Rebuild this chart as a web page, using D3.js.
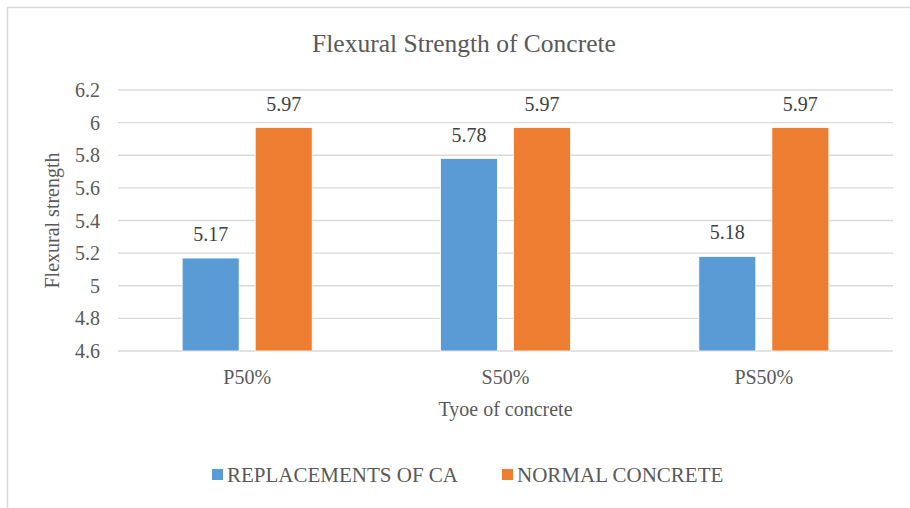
<!DOCTYPE html>
<html>
<head>
<meta charset="utf-8">
<script src="https://cdn.jsdelivr.net/npm/d3@7"></script>
<style>
  body { margin: 0; background: #fff; }
  svg { display: block; font-family: "Liberation Serif", "Times New Roman", serif; }
</style>
</head>
<body>
<div id="chart"></div>
<script>
// data
const categories = ['P50%', 'S50%', 'PS50%']
const seriesNames = ['REPLACEMENTS OF CA', 'NORMAL CONCRETE']
const replacementValues = [5.17, 5.78, 5.18]
const normalValues = [5.97, 5.97, 5.97]
const yTicks = [4.6, 4.8, 5, 5.2, 5.4, 5.6, 5.8, 6, 6.2]
const colors = ['#5B9BD5', '#ED7D31']

function draw() {
  const width = 910
  const height = 508
  const plot = { left: 118, right: 893, top: 90, bottom: 351 }
  const textColor = '#595959'

  const svg = d3.select('#chart')
    .append('svg')
    .attr('width', width)
    .attr('height', height)

  // chart frame (right/bottom edges cut off in the reference)
  svg.append('rect')
    .attr('x', 7.5).attr('y', 7.5)
    .attr('width', width + 20).attr('height', height + 20)
    .attr('fill', 'none')
    .attr('stroke', '#d9d9d9')
    .attr('stroke-width', 1.5)

  // scales
  const y = d3.scaleLinear().domain([4.6, 6.2]).range([plot.bottom, plot.top])
  const x0 = d3.scaleBand().domain(categories).range([plot.left, plot.right])
  const x1 = d3.scaleBand().domain(seriesNames).range([-65, 65]).paddingInner(0.22)

  // gridlines
  svg.append('g')
    .selectAll('line')
    .data(yTicks)
    .join('line')
    .attr('x1', plot.left).attr('x2', plot.right)
    .attr('y1', d => y(d)).attr('y2', d => y(d))
    .attr('stroke', '#d9d9d9')
    .attr('stroke-width', 1.3)

  // y tick labels
  svg.append('g')
    .selectAll('text')
    .data(yTicks)
    .join('text')
    .attr('x', 100)
    .attr('y', d => y(d))
    .attr('dy', '0.35em')
    .attr('text-anchor', 'end')
    .attr('font-size', 20)
    .attr('fill', textColor)
    .text(d => d)

  // bars
  const rows = categories.map((c, i) => ({
    cat: c,
    values: [replacementValues[i], normalValues[i]]
  }))

  const groups = svg.append('g')
    .selectAll('g')
    .data(rows)
    .join('g')
    .attr('transform', d => `translate(${x0(d.cat) + x0.bandwidth() / 2},0)`)

  groups.selectAll('rect')
    .data(d => d.values.map((v, j) => ({ name: seriesNames[j], value: v, j })))
    .join('rect')
    .attr('x', d => x1(d.name))
    .attr('y', d => y(d.value))
    .attr('width', x1.bandwidth())
    .attr('height', d => y(4.6) - y(d.value))
    .attr('fill', d => colors[d.j])
    .attr('stroke', '#fff')
    .attr('stroke-width', 0.8)

  // data labels
  groups.selectAll('text')
    .data(d => d.values.map((v, j) => ({ name: seriesNames[j], value: v })))
    .join('text')
    .attr('x', d => x1(d.name) + x1.bandwidth() / 2)
    .attr('y', d => y(d.value) - 17)
    .attr('text-anchor', 'middle')
    .attr('font-size', 20)
    .attr('fill', '#404040')
    .text(d => d.value)

  // x category labels
  svg.append('g')
    .selectAll('text')
    .data(categories)
    .join('text')
    .attr('x', d => x0(d) + x0.bandwidth() / 2)
    .attr('y', 384)
    .attr('text-anchor', 'middle')
    .attr('font-size', 20)
    .attr('fill', textColor)
    .text(d => d)

  // title
  svg.append('text')
    .attr('x', 464).attr('y', 52)
    .attr('text-anchor', 'middle')
    .attr('font-size', 25.5)
    .attr('fill', textColor)
    .text('Flexural Strength of Concrete')

  // axis titles
  svg.append('text')
    .attr('x', (plot.left + plot.right) / 2).attr('y', 416)
    .attr('text-anchor', 'middle')
    .attr('font-size', 20)
    .attr('fill', textColor)
    .text('Tyoe of concrete')

  svg.append('text')
    .attr('transform', `translate(59,${(plot.top + plot.bottom) / 2}) rotate(-90)`)
    .attr('text-anchor', 'middle')
    .attr('font-size', 20)
    .attr('fill', textColor)
    .text('Flexural strength')

  // legend
  const legendX = [212, 502]
  const legend = svg.append('g')
    .selectAll('g')
    .data(seriesNames)
    .join('g')
    .attr('transform', (d, i) => `translate(${legendX[i]},469)`)

  legend.append('rect')
    .attr('width', 11).attr('height', 11)
    .attr('fill', (d, i) => colors[i])

  legend.append('text')
    .attr('x', 15).attr('y', 13)
    .attr('font-size', 21)
    .attr('fill', textColor)
    .text(d => d)
}

draw()
</script>
</body>
</html>
